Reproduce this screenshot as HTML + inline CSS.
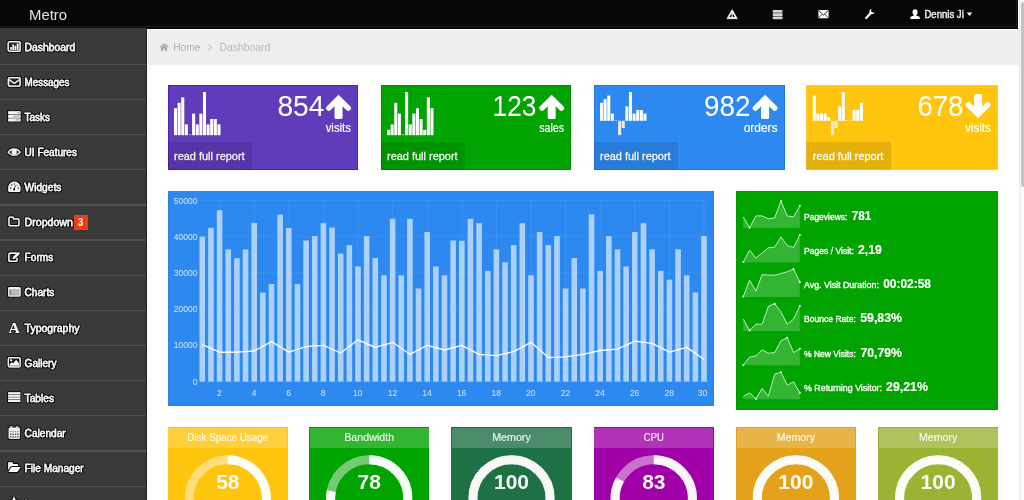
<!DOCTYPE html><html><head><meta charset="utf-8"><title>Metro</title><style>
*{box-sizing:border-box}
html,body{margin:0;padding:0}
body{width:1024px;height:500px;overflow:hidden;position:relative;background:#fff;font-family:"Liberation Sans",sans-serif;color:#fff}
.a{position:absolute}
svg{position:absolute;left:0;top:0;overflow:visible;will-change:transform}
svg text{font-family:"Liberation Sans",sans-serif;white-space:pre}
</style></head><body>
<div class="a" style="left:1019px;top:0;width:5px;height:500px;background:linear-gradient(90deg,#e4e4e4 0,#f3f3f3 1.2px,#fafafa 2.5px)"></div>
<div class="a" style="left:1021.4px;top:2px;width:6px;height:185px;background:#c3c3c3;border-radius:3px"></div>
<div class="a" style="left:0;top:0;width:1018px;height:28.6px;background:#070707"></div>
<div class="a" style="left:0;top:26.1px;width:1017px;height:0.9px;background:#1b1b1b"></div>
<div class="a" style="left:1016.1px;top:0;width:0.9px;height:27px;background:#1b1b1b"></div>
<div class="a" style="left:0;top:28.4px;width:147.1px;height:472px;background:#3a3a3a;border-right:1.4px solid #1f1f1f"></div>
<div class="a" style="left:0;top:63.70px;width:145.7px;height:1.3px;background:#515151"></div>
<div class="a" style="left:0;top:98.85px;width:145.7px;height:1.3px;background:#515151"></div>
<div class="a" style="left:0;top:134.00px;width:145.7px;height:1.3px;background:#515151"></div>
<div class="a" style="left:0;top:169.15px;width:145.7px;height:1.3px;background:#515151"></div>
<div class="a" style="left:0;top:204.30px;width:145.7px;height:1.3px;background:#515151"></div>
<div class="a" style="left:0;top:239.45px;width:145.7px;height:1.3px;background:#515151"></div>
<div class="a" style="left:0;top:274.60px;width:145.7px;height:1.3px;background:#515151"></div>
<div class="a" style="left:0;top:309.75px;width:145.7px;height:1.3px;background:#515151"></div>
<div class="a" style="left:0;top:344.90px;width:145.7px;height:1.3px;background:#515151"></div>
<div class="a" style="left:0;top:380.05px;width:145.7px;height:1.3px;background:#515151"></div>
<div class="a" style="left:0;top:415.20px;width:145.7px;height:1.3px;background:#515151"></div>
<div class="a" style="left:0;top:450.35px;width:145.7px;height:1.3px;background:#515151"></div>
<div class="a" style="left:0;top:485.50px;width:145.7px;height:1.3px;background:#515151"></div>
<div class="a" style="left:0;top:520.65px;width:145.7px;height:1.3px;background:#515151"></div>
<div class="a" style="left:73.6px;top:215px;width:14px;height:15.4px;background:#ee3b12"></div>
<div class="a" style="left:148.1px;top:30px;width:870.9px;height:34.5px;background:#eeeeee"></div>
<svg width="1024" height="500" viewBox="0 0 1024 500"><path d="M208.3 44.7 L211.4 47.4 L208.3 50.1" fill="none" stroke="#b4b4b4" stroke-width="1"/></svg>
<div class="a" style="left:167.60px;top:85.2px;width:190.70px;height:85px;background:#603cba;box-shadow:inset 0 0 0 1px #4d22b3"></div>
<div class="a" style="left:167.60px;top:142.2px;width:84.2px;height:28px;background:rgba(0,0,0,.10)"></div>
<div class="a" style="left:380.60px;top:85.2px;width:190.90px;height:85px;background:#00a300;box-shadow:inset 0 0 0 1px #009000"></div>
<div class="a" style="left:380.60px;top:142.2px;width:84.2px;height:28px;background:rgba(0,0,0,.10)"></div>
<div class="a" style="left:593.60px;top:85.2px;width:191.60px;height:85px;background:#2d89ef;box-shadow:inset 0 0 0 1px #2278e2"></div>
<div class="a" style="left:593.60px;top:142.2px;width:84.2px;height:28px;background:rgba(0,0,0,.10)"></div>
<div class="a" style="left:806.40px;top:85.2px;width:191.90px;height:85px;background:#ffc40d;box-shadow:inset 0 0 0 1px #ffce3a"></div>
<div class="a" style="left:806.40px;top:142.2px;width:84.2px;height:28px;background:rgba(0,0,0,.10)"></div>
<svg width="1024" height="500" viewBox="0 0 1024 500"><rect x="174.00" y="108.20" width="3.05" height="27.00" fill="#fff"/><rect x="177.62" y="102.80" width="3.05" height="32.40" fill="#fff"/><rect x="181.24" y="97.40" width="3.05" height="37.80" fill="#fff"/><rect x="184.86" y="124.40" width="3.05" height="10.80" fill="#fff"/><rect x="189.08" y="134.30" width="2" height="0.9" fill="#fff" opacity=".7"/><rect x="192.10" y="113.60" width="3.05" height="21.60" fill="#fff"/><rect x="195.72" y="124.40" width="3.05" height="10.80" fill="#fff"/><rect x="199.34" y="113.60" width="3.05" height="21.60" fill="#fff"/><rect x="202.96" y="92.00" width="3.05" height="43.20" fill="#fff"/><rect x="206.58" y="124.40" width="3.05" height="10.80" fill="#fff"/><rect x="210.20" y="119.00" width="3.05" height="16.20" fill="#fff"/><rect x="213.82" y="119.00" width="3.05" height="16.20" fill="#fff"/><rect x="217.44" y="124.40" width="3.05" height="10.80" fill="#fff"/><g transform="translate(338.55 94.7)" fill="none" stroke="#fff"><rect x="-4" y="6" width="8" height="18.4" rx="1.6" fill="#fff" stroke="none"/><path d="M-9.7 13.5 L0 3.8 L9.7 13.5" stroke-width="5.4" stroke-linejoin="miter" stroke-linecap="round"/></g><rect x="387.00" y="129.80" width="3.05" height="5.40" fill="#fff"/><rect x="390.62" y="124.40" width="3.05" height="10.80" fill="#fff"/><rect x="394.24" y="102.80" width="3.05" height="32.40" fill="#fff"/><rect x="397.86" y="113.60" width="3.05" height="21.60" fill="#fff"/><rect x="402.08" y="134.30" width="2" height="0.9" fill="#fff" opacity=".7"/><rect x="405.10" y="92.00" width="3.05" height="43.20" fill="#fff"/><rect x="408.72" y="124.40" width="3.05" height="10.80" fill="#fff"/><rect x="412.34" y="113.60" width="3.05" height="21.60" fill="#fff"/><rect x="415.96" y="108.20" width="3.05" height="27.00" fill="#fff"/><rect x="419.58" y="119.00" width="3.05" height="16.20" fill="#fff"/><rect x="423.20" y="129.80" width="3.05" height="5.40" fill="#fff"/><rect x="426.82" y="97.40" width="3.05" height="37.80" fill="#fff"/><rect x="430.44" y="108.20" width="3.05" height="27.00" fill="#fff"/><g transform="translate(551.70 94.7)" fill="none" stroke="#fff"><rect x="-4" y="6" width="8" height="18.4" rx="1.6" fill="#fff" stroke="none"/><path d="M-9.7 13.5 L0 3.8 L9.7 13.5" stroke-width="5.4" stroke-linejoin="miter" stroke-linecap="round"/></g><rect x="600.00" y="102.80" width="3.05" height="18.00" fill="#fff"/><rect x="603.62" y="99.20" width="3.05" height="21.60" fill="#fff"/><rect x="607.24" y="95.60" width="3.05" height="25.20" fill="#fff"/><rect x="610.86" y="113.60" width="3.05" height="7.20" fill="#fff"/><rect x="615.08" y="119.90" width="2" height="0.9" fill="#fff" opacity=".7"/><rect x="618.10" y="120.80" width="3.05" height="14.40" fill="#efe9e4"/><rect x="621.72" y="120.80" width="3.05" height="7.20" fill="#efe9e4"/><rect x="625.34" y="106.40" width="3.05" height="14.40" fill="#fff"/><rect x="628.96" y="92.00" width="3.05" height="28.80" fill="#fff"/><rect x="632.58" y="113.60" width="3.05" height="7.20" fill="#fff"/><rect x="636.20" y="110.00" width="3.05" height="10.80" fill="#fff"/><rect x="639.82" y="110.00" width="3.05" height="10.80" fill="#fff"/><rect x="643.44" y="113.60" width="3.05" height="7.20" fill="#fff"/><g transform="translate(765.10 94.7)" fill="none" stroke="#fff"><rect x="-4" y="6" width="8" height="18.4" rx="1.6" fill="#fff" stroke="none"/><path d="M-9.7 13.5 L0 3.8 L9.7 13.5" stroke-width="5.4" stroke-linejoin="miter" stroke-linecap="round"/></g><rect x="812.80" y="95.60" width="3.05" height="25.20" fill="#fff"/><rect x="816.42" y="113.60" width="3.05" height="7.20" fill="#fff"/><rect x="820.04" y="113.60" width="3.05" height="7.20" fill="#fff"/><rect x="823.66" y="113.60" width="3.05" height="7.20" fill="#fff"/><rect x="827.28" y="117.20" width="3.05" height="3.60" fill="#fff"/><rect x="830.90" y="120.80" width="3.05" height="14.40" fill="#efe9e4"/><rect x="834.52" y="120.80" width="3.05" height="7.20" fill="#efe9e4"/><rect x="838.14" y="106.40" width="3.05" height="14.40" fill="#fff"/><rect x="841.76" y="92.00" width="3.05" height="28.80" fill="#fff"/><rect x="845.98" y="119.90" width="2" height="0.9" fill="#fff" opacity=".7"/><rect x="849.60" y="119.90" width="2" height="0.9" fill="#fff" opacity=".7"/><rect x="852.62" y="110.00" width="3.05" height="10.80" fill="#fff"/><rect x="856.24" y="110.00" width="3.05" height="10.80" fill="#fff"/><rect x="859.86" y="102.80" width="3.05" height="18.00" fill="#fff"/><g transform="translate(978.10 118.3) scale(1 -1)" fill="none" stroke="#fff"><rect x="-4" y="6" width="8" height="18.4" rx="1.6" fill="#fff" stroke="none"/><path d="M-9.7 13.5 L0 3.8 L9.7 13.5" stroke-width="5.4" stroke-linejoin="miter" stroke-linecap="round"/></g></svg>
<div class="a" style="left:167.7px;top:190.7px;width:546.20px;height:215.1px;background:#2d89ef;box-shadow:inset 0 0 0 1px rgba(0,0,0,.05)"></div>
<svg width="1024" height="500" viewBox="0 0 1024 500"><line x1="199" x2="708.5" y1="381.60" y2="381.60" stroke="#fff" stroke-opacity=".07" stroke-width="1"/><line x1="199" x2="708.5" y1="345.40" y2="345.40" stroke="#fff" stroke-opacity=".07" stroke-width="1"/><line x1="199" x2="708.5" y1="309.20" y2="309.20" stroke="#fff" stroke-opacity=".07" stroke-width="1"/><line x1="199" x2="708.5" y1="273.00" y2="273.00" stroke="#fff" stroke-opacity=".07" stroke-width="1"/><line x1="199" x2="708.5" y1="236.80" y2="236.80" stroke="#fff" stroke-opacity=".07" stroke-width="1"/><line x1="199" x2="708.5" y1="200.60" y2="200.60" stroke="#fff" stroke-opacity=".07" stroke-width="1"/><line x1="219.60" x2="219.60" y1="200.6" y2="381.6" stroke="#fff" stroke-opacity=".07" stroke-width="1"/><line x1="254.20" x2="254.20" y1="200.6" y2="381.6" stroke="#fff" stroke-opacity=".07" stroke-width="1"/><line x1="288.80" x2="288.80" y1="200.6" y2="381.6" stroke="#fff" stroke-opacity=".07" stroke-width="1"/><line x1="323.40" x2="323.40" y1="200.6" y2="381.6" stroke="#fff" stroke-opacity=".07" stroke-width="1"/><line x1="358.00" x2="358.00" y1="200.6" y2="381.6" stroke="#fff" stroke-opacity=".07" stroke-width="1"/><line x1="392.60" x2="392.60" y1="200.6" y2="381.6" stroke="#fff" stroke-opacity=".07" stroke-width="1"/><line x1="427.20" x2="427.20" y1="200.6" y2="381.6" stroke="#fff" stroke-opacity=".07" stroke-width="1"/><line x1="461.80" x2="461.80" y1="200.6" y2="381.6" stroke="#fff" stroke-opacity=".07" stroke-width="1"/><line x1="496.40" x2="496.40" y1="200.6" y2="381.6" stroke="#fff" stroke-opacity=".07" stroke-width="1"/><line x1="531.00" x2="531.00" y1="200.6" y2="381.6" stroke="#fff" stroke-opacity=".07" stroke-width="1"/><line x1="565.60" x2="565.60" y1="200.6" y2="381.6" stroke="#fff" stroke-opacity=".07" stroke-width="1"/><line x1="600.20" x2="600.20" y1="200.6" y2="381.6" stroke="#fff" stroke-opacity=".07" stroke-width="1"/><line x1="634.80" x2="634.80" y1="200.6" y2="381.6" stroke="#fff" stroke-opacity=".07" stroke-width="1"/><line x1="669.40" x2="669.40" y1="200.6" y2="381.6" stroke="#fff" stroke-opacity=".07" stroke-width="1"/><line x1="704.00" x2="704.00" y1="200.6" y2="381.6" stroke="#fff" stroke-opacity=".07" stroke-width="1"/><rect x="199.50" y="236.60" width="5.6" height="145.00" fill="#fff" fill-opacity=".6"/><rect x="208.15" y="227.80" width="5.6" height="153.80" fill="#fff" fill-opacity=".6"/><rect x="216.80" y="210.20" width="5.6" height="171.40" fill="#fff" fill-opacity=".6"/><rect x="225.45" y="249.40" width="5.6" height="132.20" fill="#fff" fill-opacity=".6"/><rect x="234.10" y="258.20" width="5.6" height="123.40" fill="#fff" fill-opacity=".6"/><rect x="242.75" y="249.40" width="5.6" height="132.20" fill="#fff" fill-opacity=".6"/><rect x="251.40" y="223.00" width="5.6" height="158.60" fill="#fff" fill-opacity=".6"/><rect x="260.05" y="292.70" width="5.6" height="88.90" fill="#fff" fill-opacity=".6"/><rect x="268.70" y="284.10" width="5.6" height="97.50" fill="#fff" fill-opacity=".6"/><rect x="277.35" y="214.60" width="5.6" height="167.00" fill="#fff" fill-opacity=".6"/><rect x="286.00" y="228.00" width="5.6" height="153.60" fill="#fff" fill-opacity=".6"/><rect x="294.65" y="284.10" width="5.6" height="97.50" fill="#fff" fill-opacity=".6"/><rect x="303.30" y="240.50" width="5.6" height="141.10" fill="#fff" fill-opacity=".6"/><rect x="311.95" y="236.10" width="5.6" height="145.50" fill="#fff" fill-opacity=".6"/><rect x="320.60" y="223.20" width="5.6" height="158.40" fill="#fff" fill-opacity=".6"/><rect x="329.25" y="227.60" width="5.6" height="154.00" fill="#fff" fill-opacity=".6"/><rect x="337.90" y="253.50" width="5.6" height="128.10" fill="#fff" fill-opacity=".6"/><rect x="346.55" y="245.20" width="5.6" height="136.40" fill="#fff" fill-opacity=".6"/><rect x="355.20" y="266.50" width="5.6" height="115.10" fill="#fff" fill-opacity=".6"/><rect x="363.85" y="236.10" width="5.6" height="145.50" fill="#fff" fill-opacity=".6"/><rect x="372.50" y="258.10" width="5.6" height="123.50" fill="#fff" fill-opacity=".6"/><rect x="381.15" y="275.30" width="5.6" height="106.30" fill="#fff" fill-opacity=".6"/><rect x="389.80" y="218.80" width="5.6" height="162.80" fill="#fff" fill-opacity=".6"/><rect x="398.45" y="275.30" width="5.6" height="106.30" fill="#fff" fill-opacity=".6"/><rect x="407.10" y="218.80" width="5.6" height="162.80" fill="#fff" fill-opacity=".6"/><rect x="415.75" y="288.50" width="5.6" height="93.10" fill="#fff" fill-opacity=".6"/><rect x="424.40" y="232.00" width="5.6" height="149.60" fill="#fff" fill-opacity=".6"/><rect x="433.05" y="266.50" width="5.6" height="115.10" fill="#fff" fill-opacity=".6"/><rect x="441.70" y="275.30" width="5.6" height="106.30" fill="#fff" fill-opacity=".6"/><rect x="450.35" y="240.50" width="5.6" height="141.10" fill="#fff" fill-opacity=".6"/><rect x="459.00" y="240.80" width="5.6" height="140.80" fill="#fff" fill-opacity=".6"/><rect x="467.65" y="218.80" width="5.6" height="162.80" fill="#fff" fill-opacity=".6"/><rect x="476.30" y="223.20" width="5.6" height="158.40" fill="#fff" fill-opacity=".6"/><rect x="484.95" y="270.90" width="5.6" height="110.70" fill="#fff" fill-opacity=".6"/><rect x="493.60" y="249.30" width="5.6" height="132.30" fill="#fff" fill-opacity=".6"/><rect x="502.25" y="262.30" width="5.6" height="119.30" fill="#fff" fill-opacity=".6"/><rect x="510.90" y="245.20" width="5.6" height="136.40" fill="#fff" fill-opacity=".6"/><rect x="519.55" y="223.20" width="5.6" height="158.40" fill="#fff" fill-opacity=".6"/><rect x="528.20" y="275.30" width="5.6" height="106.30" fill="#fff" fill-opacity=".6"/><rect x="536.85" y="232.00" width="5.6" height="149.60" fill="#fff" fill-opacity=".6"/><rect x="545.50" y="245.20" width="5.6" height="136.40" fill="#fff" fill-opacity=".6"/><rect x="554.15" y="236.10" width="5.6" height="145.50" fill="#fff" fill-opacity=".6"/><rect x="562.80" y="288.50" width="5.6" height="93.10" fill="#fff" fill-opacity=".6"/><rect x="571.45" y="258.10" width="5.6" height="123.50" fill="#fff" fill-opacity=".6"/><rect x="580.10" y="288.50" width="5.6" height="93.10" fill="#fff" fill-opacity=".6"/><rect x="588.75" y="214.40" width="5.6" height="167.20" fill="#fff" fill-opacity=".6"/><rect x="597.40" y="270.90" width="5.6" height="110.70" fill="#fff" fill-opacity=".6"/><rect x="606.05" y="236.10" width="5.6" height="145.50" fill="#fff" fill-opacity=".6"/><rect x="614.70" y="249.30" width="5.6" height="132.30" fill="#fff" fill-opacity=".6"/><rect x="623.35" y="266.50" width="5.6" height="115.10" fill="#fff" fill-opacity=".6"/><rect x="632.00" y="232.00" width="5.6" height="149.60" fill="#fff" fill-opacity=".6"/><rect x="640.65" y="223.20" width="5.6" height="158.40" fill="#fff" fill-opacity=".6"/><rect x="649.30" y="249.30" width="5.6" height="132.30" fill="#fff" fill-opacity=".6"/><rect x="657.95" y="270.90" width="5.6" height="110.70" fill="#fff" fill-opacity=".6"/><rect x="666.60" y="279.70" width="5.6" height="101.90" fill="#fff" fill-opacity=".6"/><rect x="675.25" y="249.30" width="5.6" height="132.30" fill="#fff" fill-opacity=".6"/><rect x="683.90" y="275.30" width="5.6" height="106.30" fill="#fff" fill-opacity=".6"/><rect x="692.55" y="292.40" width="5.6" height="89.20" fill="#fff" fill-opacity=".6"/><rect x="701.20" y="236.10" width="5.6" height="145.50" fill="#fff" fill-opacity=".6"/><polyline points="202.30,344.60 219.60,352.20 236.90,352.20 254.20,351.00 271.50,341.60 288.80,352.20 306.10,346.70 323.40,345.40 340.70,353.00 358.00,339.80 375.30,347.40 392.60,342.30 409.90,354.30 427.20,345.40 444.50,350.00 461.80,345.40 479.10,354.30 496.40,355.60 513.70,351.70 531.00,342.30 548.30,357.60 565.60,356.80 582.90,354.30 600.20,350.50 617.50,349.20 634.80,341.10 652.10,343.40 669.40,352.20 686.70,347.40 704.00,359.40" fill="none" stroke="#fff" stroke-width="1.35" stroke-linejoin="round"/></svg>
<div class="a" style="left:735.9px;top:190.7px;width:262.30px;height:219.8px;background:#00a300;box-shadow:inset 0 0 0 1px rgba(0,0,0,.05)"></div>
<svg width="1024" height="500" viewBox="0 0 1024 500"><polygon points="743.30,228.10 743.30,216.96 749.58,227.70 755.86,215.90 762.14,215.90 768.42,218.90 774.70,217.80 780.98,200.90 787.26,215.90 793.54,216.96 799.82,206.00 799.82,228.10" fill="#fff" fill-opacity=".2"/><polyline points="743.30,216.96 749.58,227.70 755.86,215.90 762.14,215.90 768.42,218.90 774.70,217.80 780.98,200.90 787.26,215.90 793.54,216.96 799.82,206.00" fill="none" stroke="#fff" stroke-opacity=".8" stroke-width="0.9" stroke-linejoin="round"/><circle cx="749.58" cy="227.70" r="1" fill="#fff"/><circle cx="780.98" cy="200.90" r="1" fill="#fff"/><circle cx="799.82" cy="206.00" r="1" fill="#fff"/><polygon points="743.30,262.40 743.30,262.00 749.58,250.00 755.86,258.10 762.14,253.00 768.42,247.80 774.70,247.10 780.98,236.80 787.26,245.60 793.54,247.50 799.82,235.00 799.82,262.40" fill="#fff" fill-opacity=".2"/><polyline points="743.30,262.00 749.58,250.00 755.86,258.10 762.14,253.00 768.42,247.80 774.70,247.10 780.98,236.80 787.26,245.60 793.54,247.50 799.82,235.00" fill="none" stroke="#fff" stroke-opacity=".8" stroke-width="0.9" stroke-linejoin="round"/><circle cx="743.30" cy="262.00" r="1" fill="#fff"/><circle cx="799.82" cy="235.00" r="1" fill="#fff"/><polygon points="743.30,297.00 743.30,296.60 749.58,280.10 755.86,291.10 762.14,274.60 768.42,275.00 774.70,275.20 780.98,273.50 787.26,271.70 793.54,269.10 799.82,281.90 799.82,297.00" fill="#fff" fill-opacity=".2"/><polyline points="743.30,296.60 749.58,280.10 755.86,291.10 762.14,274.60 768.42,275.00 774.70,275.20 780.98,273.50 787.26,271.70 793.54,269.10 799.82,281.90" fill="none" stroke="#fff" stroke-opacity=".8" stroke-width="0.9" stroke-linejoin="round"/><circle cx="743.30" cy="296.60" r="1" fill="#fff"/><circle cx="793.54" cy="269.10" r="1" fill="#fff"/><circle cx="799.82" cy="281.90" r="1" fill="#fff"/><polygon points="743.30,330.90 743.30,319.10 749.58,330.50 755.86,324.20 762.14,324.20 768.42,306.30 774.70,303.70 780.98,311.80 787.26,324.20 793.54,319.10 799.82,305.90 799.82,330.90" fill="#fff" fill-opacity=".2"/><polyline points="743.30,319.10 749.58,330.50 755.86,324.20 762.14,324.20 768.42,306.30 774.70,303.70 780.98,311.80 787.26,324.20 793.54,319.10 799.82,305.90" fill="none" stroke="#fff" stroke-opacity=".8" stroke-width="0.9" stroke-linejoin="round"/><circle cx="749.58" cy="330.50" r="1" fill="#fff"/><circle cx="774.70" cy="303.70" r="1" fill="#fff"/><circle cx="799.82" cy="305.90" r="1" fill="#fff"/><polygon points="743.30,365.30 743.30,364.90 749.58,357.20 755.86,355.80 762.14,349.90 768.42,353.20 774.70,352.50 780.98,340.70 787.26,337.80 793.54,352.50 799.82,348.80 799.82,365.30" fill="#fff" fill-opacity=".2"/><polyline points="743.30,364.90 749.58,357.20 755.86,355.80 762.14,349.90 768.42,353.20 774.70,352.50 780.98,340.70 787.26,337.80 793.54,352.50 799.82,348.80" fill="none" stroke="#fff" stroke-opacity=".8" stroke-width="0.9" stroke-linejoin="round"/><circle cx="743.30" cy="364.90" r="1" fill="#fff"/><circle cx="799.82" cy="348.80" r="1" fill="#fff"/><circle cx="787.26" cy="337.80" r="1" fill="#fff"/><polygon points="743.30,399.30 743.30,396.50 749.58,392.80 755.86,398.90 762.14,388.40 768.42,396.10 774.70,374.10 780.98,372.30 787.26,385.10 793.54,381.80 799.82,392.80 799.82,399.30" fill="#fff" fill-opacity=".2"/><polyline points="743.30,396.50 749.58,392.80 755.86,398.90 762.14,388.40 768.42,396.10 774.70,374.10 780.98,372.30 787.26,385.10 793.54,381.80 799.82,392.80" fill="none" stroke="#fff" stroke-opacity=".8" stroke-width="0.9" stroke-linejoin="round"/><circle cx="799.82" cy="392.80" r="1" fill="#fff"/><circle cx="755.86" cy="398.90" r="1" fill="#fff"/><circle cx="780.98" cy="372.30" r="1" fill="#fff"/></svg>
<div class="a" style="left:167.60px;top:426.9px;width:120.40px;height:74px;background:#ffc40d"></div>
<div class="a" style="left:168.30px;top:427.5px;width:119.00px;height:20.5px;background:rgba(255,255,255,.2)"></div>
<div class="a" style="left:309.00px;top:426.9px;width:120.40px;height:74px;background:#00a300"></div>
<div class="a" style="left:309.70px;top:427.5px;width:119.00px;height:20.5px;background:rgba(255,255,255,.2)"></div>
<div class="a" style="left:451.20px;top:426.9px;width:120.60px;height:74px;background:#1e7145"></div>
<div class="a" style="left:451.90px;top:427.5px;width:119.20px;height:20.5px;background:rgba(255,255,255,.2)"></div>
<div class="a" style="left:593.60px;top:426.9px;width:120.40px;height:74px;background:#9f00a7"></div>
<div class="a" style="left:594.30px;top:427.5px;width:119.00px;height:20.5px;background:rgba(255,255,255,.2)"></div>
<div class="a" style="left:735.80px;top:426.9px;width:120.20px;height:74px;background:#e3a21a"></div>
<div class="a" style="left:736.50px;top:427.5px;width:118.80px;height:20.5px;background:rgba(255,255,255,.2)"></div>
<div class="a" style="left:878.00px;top:426.9px;width:120.30px;height:74px;background:#99b433"></div>
<div class="a" style="left:878.70px;top:427.5px;width:118.90px;height:20.5px;background:rgba(255,255,255,.2)"></div>
<svg width="1024" height="500" viewBox="0 0 1024 500"><circle cx="227.80" cy="498.3" r="38.6" fill="none" stroke="#fff" stroke-opacity=".45" stroke-width="9.0"/><path d="M227.80 459.70 A38.6 38.6 0 1 1 209.20 532.13" fill="none" stroke="#fff" stroke-opacity=".93" stroke-width="9.0"/><circle cx="369.20" cy="498.3" r="38.6" fill="none" stroke="#fff" stroke-opacity=".45" stroke-width="9.0"/><path d="M369.20 459.70 A38.6 38.6 0 1 1 331.28 491.07" fill="none" stroke="#fff" stroke-opacity=".93" stroke-width="9.0"/><circle cx="511.50" cy="498.3" r="38.6" fill="none" stroke="#fff" stroke-opacity=".45" stroke-width="9.0"/><circle cx="511.50" cy="498.3" r="38.6" fill="none" stroke="#fff" stroke-opacity=".93" stroke-width="9.0"/><circle cx="653.80" cy="498.3" r="38.6" fill="none" stroke="#fff" stroke-opacity=".45" stroke-width="9.0"/><path d="M653.80 459.70 A38.6 38.6 0 1 1 619.97 479.70" fill="none" stroke="#fff" stroke-opacity=".93" stroke-width="9.0"/><circle cx="795.90" cy="498.3" r="38.6" fill="none" stroke="#fff" stroke-opacity=".45" stroke-width="9.0"/><circle cx="795.90" cy="498.3" r="38.6" fill="none" stroke="#fff" stroke-opacity=".93" stroke-width="9.0"/><circle cx="938.15" cy="498.3" r="38.6" fill="none" stroke="#fff" stroke-opacity=".45" stroke-width="9.0"/><circle cx="938.15" cy="498.3" r="38.6" fill="none" stroke="#fff" stroke-opacity=".93" stroke-width="9.0"/></svg>
<svg width="1024" height="500" viewBox="0 0 1024 500"><defs><filter id="sh" x="-40%" y="-40%" width="180%" height="180%"><feMorphology in="SourceAlpha" operator="dilate" radius="0.55" result="d"/><feGaussianBlur in="d" stdDeviation="0.5" result="b"/><feFlood flood-color="#000" flood-opacity="0.8"/><feComposite in2="b" operator="in" result="s"/><feMerge><feMergeNode in="s"/><feMergeNode in="SourceGraphic"/></feMerge></filter></defs><g filter="url(#sh)" fill="#fff" stroke="none"><g transform="translate(7.6 41.0)"><rect x="0.65" y="0.65" width="11.9" height="9.8" rx="1.9" fill="none" stroke="#f4f4f4" stroke-width="1.3"/><rect x="2.7" y="6.0" width="1.5" height="2.9" fill="#f4f4f4"/><rect x="4.9" y="3.6" width="1.5" height="5.3" fill="#f4f4f4"/><rect x="7.1" y="4.9" width="1.5" height="4.0" fill="#f4f4f4"/><rect x="9.3" y="2.6" width="1.5" height="6.3" fill="#f4f4f4"/></g><g transform="translate(7.8 77.0)"><rect x="0.65" y="0.65" width="11.7" height="8.5" rx="1.6" fill="none" stroke="#f4f4f4" stroke-width="1.3"/><path d="M1.2 2.4 L6.5 6.4 L11.8 2.4" fill="none" stroke="#f4f4f4" stroke-width="1.2" stroke-linejoin="round"/></g><g transform="translate(8.1 111.2)"><rect x="0" y="0" width="12.5" height="2.8" rx="0.9" fill="#f4f4f4"/><rect x="0" y="3.65" width="12.5" height="2.8" rx="0.9" fill="#f4f4f4"/><rect x="0" y="7.3" width="12.5" height="2.8" rx="0.9" fill="#f4f4f4"/><rect x="9.2" y="0.9" width="2.3" height="1" fill="#999"/><rect x="5.2" y="4.55" width="6.3" height="1" fill="#999"/><rect x="7.6" y="8.2" width="3.9" height="1" fill="#999"/></g><g transform="translate(7.8 147.9)"><path d="M0.6 4.4 C3 0.2 9.8 0.2 12.2 4.4 C9.8 8.2 3 8.2 0.6 4.4 Z" fill="none" stroke="#f4f4f4" stroke-width="1.2"/><circle cx="6.4" cy="4.0" r="2.5" fill="#fff"/></g><g transform="translate(8.1 181.7)"><path d="M0.9 10.3 C-0.9 7.6 0 0 6.25 0 C12.5 0 13.4 7.6 11.6 10.3 Z" fill="#f4f4f4"/><circle cx="2.6" cy="6.4" r="0.75" fill="#222"/><circle cx="3.7" cy="3.4" r="0.75" fill="#222"/><circle cx="6.3" cy="2.3" r="0.7" fill="#222"/><circle cx="9.0" cy="3.5" r="0.6" fill="#555"/><circle cx="10.0" cy="6.4" r="0.75" fill="#222"/><path d="M6.0 7.4 L7.4 3.6" stroke="#333" stroke-width="0.9" fill="none"/><circle cx="6.0" cy="7.7" r="1.05" fill="#222"/></g><g transform="translate(8.3 216.5)"><path d="M0.65 2 Q0.65 0.65 2 0.65 L4.2 0.65 Q5.2 0.65 5.2 1.6 L5.2 2.3 L9.4 2.3 Q10.65 2.3 10.65 3.5 L10.65 7.9 Q10.65 9.15 9.4 9.15 L2 9.15 Q0.65 9.15 0.65 7.9 Z" fill="none" stroke="#f4f4f4" stroke-width="1.3" stroke-linejoin="round"/></g><g transform="translate(8.1 251.7)"><path d="M8.2 1.55 L2.6 1.55 Q0.65 1.55 0.65 3.5 L0.65 7.7 Q0.65 9.65 2.6 9.65 L7 9.65 Q8.9 9.65 8.9 7.7 L8.9 6.8" fill="none" stroke="#f4f4f4" stroke-width="1.3" stroke-linecap="round"/><path d="M4.6 7.3 L5.1 5.2 L9.6 0.7 Q10.2 0.2 10.8 0.8 L11.3 1.3 Q11.8 1.9 11.3 2.4 L6.8 6.9 Z" fill="#fff"/></g><g transform="translate(8.1 287.0)"><rect x="0" y="0" width="12.5" height="9.6" rx="1.7" fill="#f4f4f4"/><rect x="1.2" y="2.3" width="10.1" height="6.1" fill="#9a9a9a"/><rect x="3.2" y="3.0" width="7.4" height="4.7" fill="#bdbdbd"/><rect x="1.8" y="3.0" width="1" height="4.7" fill="#777"/></g><g transform="translate(7.8 357.0)"><rect x="0.6" y="0.6" width="11.8" height="9.3" rx="1.5" fill="none" stroke="#f4f4f4" stroke-width="1.2"/><circle cx="3.3" cy="3.2" r="1.0" fill="#fff"/><path d="M2.0 8.6 L2.0 7.2 L4.4 5.6 L5.6 6.4 L8.4 3.0 L11.0 6.4 L11.0 8.6 Z" fill="#fff"/></g><g transform="translate(8.1 392.2)"><rect x="0" y="0" width="12.1" height="1.9" rx="0.3" fill="#f4f4f4"/><rect x="0" y="2.62" width="12.1" height="1.9" rx="0.3" fill="#f4f4f4"/><rect x="0" y="5.24" width="12.1" height="1.9" rx="0.3" fill="#f4f4f4"/><rect x="0" y="7.86" width="12.1" height="1.9" rx="0.3" fill="#f4f4f4"/></g><g transform="translate(8.8 426.2)"><path d="M0 2.2 L0 11.6 Q0 12.5 0.9 12.5 L10.1 12.5 Q11 12.5 11 11.6 L11 2.2 Q11 1.5 10.2 1.5 L9.4 1.5 L9.4 1.0 Q9.4 0 8.4 0 Q7.4 0 7.4 1.0 L7.4 1.5 L3.6 1.5 L3.6 1.0 Q3.6 0 2.6 0 Q1.6 0 1.6 1.0 L1.6 1.5 L0.8 1.5 Q0 1.5 0 2.2 Z" fill="#f4f4f4"/><rect x="1.2" y="4.7" width="1.5" height="1.4" fill="#3a3a3a" opacity="0.55"/><rect x="3.6" y="4.7" width="1.5" height="1.4" fill="#3a3a3a" opacity="0.55"/><rect x="6.0" y="4.7" width="1.5" height="1.4" fill="#3a3a3a" opacity="0.55"/><rect x="8.4" y="4.7" width="1.5" height="1.4" fill="#3a3a3a" opacity="0.55"/><rect x="1.2" y="7.4" width="1.5" height="1.4" fill="#3a3a3a" opacity="0.9"/><rect x="3.6" y="7.4" width="1.5" height="1.4" fill="#3a3a3a" opacity="0.9"/><rect x="6.0" y="7.4" width="1.5" height="1.4" fill="#3a3a3a" opacity="0.9"/><rect x="8.4" y="7.4" width="1.5" height="1.4" fill="#3a3a3a" opacity="0.9"/><rect x="1.2" y="9.9" width="1.5" height="1.4" fill="#3a3a3a" opacity="0.9"/><rect x="3.6" y="9.9" width="1.5" height="1.4" fill="#3a3a3a" opacity="0.9"/><rect x="6.0" y="9.9" width="1.5" height="1.4" fill="#3a3a3a" opacity="0.9"/><rect x="8.4" y="9.9" width="1.5" height="1.4" fill="#3a3a3a" opacity="0.9"/><rect x="2.2" y="0.7" width="0.8" height="1.5" fill="#aaa"/><rect x="8.0" y="0.7" width="0.8" height="1.5" fill="#aaa"/></g><g transform="translate(8.1 462.2)"><path d="M0 1.2 Q0 0 1.2 0 L3.6 0 Q4.8 0 4.8 1.2 L4.8 1.7 L8.6 1.7 Q9.8 1.7 9.8 2.9 L9.8 3.7 L3.8 3.7 Q2.8 3.7 2.2 4.6 L0 7.8 Z" fill="#f4f4f4"/><path d="M0.5 9.8 L3.3 5.4 Q3.8 4.7 4.6 4.7 L11.7 4.7 Q12.6 4.7 12.0 5.5 L9.6 9.1 Q9.1 9.8 8.3 9.8 Z" fill="#fff"/></g><g transform="translate(8.2 496.6)"><path d="M5.8 0 L7.6 3.8 L11.6 4.3 L8.7 7.2 L9.4 11.3 L5.8 9.3 L2.2 11.3 L2.9 7.2 L0 4.3 L4 3.8 Z" fill="#f4f4f4"/></g></g><text x="8.6" y="332.6" font-size="15.6" font-weight="bold" fill="#fff" stroke="#000" stroke-width="1.4" stroke-opacity=".6" paint-order="stroke" style="font-family:'Liberation Serif',serif">A</text><g transform="translate(159.6 43.4)" fill="#a3a3a3"><path d="M4.35 0 L8.9 3.7 L8.3 4.4 L4.35 1.3 L0.4 4.4 L-0.2 3.7 Z"/><path d="M1.3 4.3 L4.35 1.9 L7.4 4.3 L7.4 7.4 L5.2 7.4 L5.2 5.2 L3.5 5.2 L3.5 7.4 L1.3 7.4 Z"/><rect x="6.2" y="0.5" width="1.1" height="2" /></g><g transform="translate(726.7 9.4)"><path d="M5.45 0.2 L10.7 9.3 L0.2 9.3 Z" fill="#fff" stroke="#fff" stroke-width="0.6" stroke-linejoin="round"/><path d="M5.45 3.0 L8.2 7.7 L2.7 7.7 Z" fill="#0a0a0a"/><rect x="4.8" y="3.3" width="1.3" height="2.9" fill="#fff"/><rect x="4.8" y="6.6" width="1.3" height="1.1" fill="#fff"/></g><g transform="translate(772.7 10.1)" fill="#d6d6d6"><rect x="0" y="0" width="9.9" height="2.75" rx="0.8"/><rect x="0" y="3.15" width="9.9" height="2.75" rx="0.8"/><rect x="0" y="6.3" width="9.9" height="2.75" rx="0.8"/></g><g transform="translate(818.4 10.1)"><rect x="0" y="0" width="10.2" height="8.1" rx="0.6" fill="#fff"/><path d="M0.5 0.6 L5.1 5.0 L9.7 0.6" fill="none" stroke="#0a0a0a" stroke-width="0.9"/><path d="M0.5 7.6 L3.6 4.2 M9.7 7.6 L6.6 4.2" fill="none" stroke="#0a0a0a" stroke-width="0.8"/></g><g transform="translate(864.9 8.7)"><path d="M1.3 9.3 L6.2 4.1" stroke="#fff" stroke-width="2.3" stroke-linecap="round" fill="none"/><path d="M6.7 0.3 Q4.3 0.6 4.4 3.2 Q4.6 5.6 7.2 5.6 Q9.3 5.4 9.4 3.2 L7.4 4.0 L6.0 2.7 Z" fill="#fff"/></g><g transform="translate(910.3 9.4)" fill="#fff"><ellipse cx="4.75" cy="2.8" rx="2.5" ry="2.9"/><path d="M0 9.5 L0 8.3 Q0 7.2 1.4 6.8 L3.6 6.0 L3.6 4.8 L5.9 4.8 L5.9 6.0 L8.1 6.8 Q9.5 7.2 9.5 8.3 L9.5 9.5 Z"/></g><path d="M966.7 12.6 L972.3 12.6 L969.5 15.9 Z" fill="#fff"/></svg>
<svg width="1024" height="500" viewBox="0 0 1024 500"><text transform="translate(29.10 19.70) scale(0.9658 1)" font-size="15.4" fill="#e2e2e2">Metro</text><text transform="translate(924.40 17.80) scale(0.9033 1)" font-size="10.6" fill="#ececec" stroke="#ececec" stroke-width="0.45" stroke-linejoin="round">Dennis Ji</text><text transform="translate(24.60 50.80) scale(0.9781 1)" font-size="10.6" fill="#fff" stroke="#fff" stroke-width="0.3" stroke-linejoin="round" filter="url(#sh)">Dashboard</text><text transform="translate(24.60 85.89) scale(0.9289 1)" font-size="10.6" fill="#fff" stroke="#fff" stroke-width="0.3" stroke-linejoin="round" filter="url(#sh)">Messages</text><text transform="translate(24.60 120.98) scale(0.9379 1)" font-size="10.6" fill="#fff" stroke="#fff" stroke-width="0.3" stroke-linejoin="round" filter="url(#sh)">Tasks</text><text transform="translate(24.60 156.07) scale(0.9461 1)" font-size="10.6" fill="#fff" stroke="#fff" stroke-width="0.3" stroke-linejoin="round" filter="url(#sh)">UI Features</text><text transform="translate(24.60 191.16) scale(0.9591 1)" font-size="10.6" fill="#fff" stroke="#fff" stroke-width="0.3" stroke-linejoin="round" filter="url(#sh)">Widgets</text><text transform="translate(24.60 226.25) scale(1.0013 1)" font-size="10.6" fill="#fff" stroke="#fff" stroke-width="0.3" stroke-linejoin="round" filter="url(#sh)">Dropdown</text><text transform="translate(24.60 261.34) scale(0.9550 1)" font-size="10.6" fill="#fff" stroke="#fff" stroke-width="0.3" stroke-linejoin="round" filter="url(#sh)">Forms</text><text transform="translate(24.60 296.43) scale(0.9514 1)" font-size="10.6" fill="#fff" stroke="#fff" stroke-width="0.3" stroke-linejoin="round" filter="url(#sh)">Charts</text><text transform="translate(24.60 331.52) scale(0.9912 1)" font-size="10.6" fill="#fff" stroke="#fff" stroke-width="0.3" stroke-linejoin="round" filter="url(#sh)">Typography</text><text transform="translate(24.60 366.61) scale(0.9493 1)" font-size="10.6" fill="#fff" stroke="#fff" stroke-width="0.3" stroke-linejoin="round" filter="url(#sh)">Gallery</text><text transform="translate(24.60 401.70) scale(0.9597 1)" font-size="10.6" fill="#fff" stroke="#fff" stroke-width="0.3" stroke-linejoin="round" filter="url(#sh)">Tables</text><text transform="translate(24.60 436.79) scale(0.9573 1)" font-size="10.6" fill="#fff" stroke="#fff" stroke-width="0.3" stroke-linejoin="round" filter="url(#sh)">Calendar</text><text transform="translate(24.60 471.88) scale(0.9555 1)" font-size="10.6" fill="#fff" stroke="#fff" stroke-width="0.3" stroke-linejoin="round" filter="url(#sh)">File Manager</text><text transform="translate(24.60 507.97) scale(0.9237 1)" font-size="10.6" fill="#fff" stroke="#fff" stroke-width="0.3" stroke-linejoin="round" filter="url(#sh)">Icons</text><text transform="translate(77.82 226.40) scale(1.0000 1)" font-size="10" fill="#fff" font-weight="bold">3</text><text transform="translate(173.20 50.80) scale(0.9681 1)" font-size="10.6" fill="#b2b2b2">Home</text><text transform="translate(219.60 50.80) scale(0.9781 1)" font-size="10.6" fill="#b9b9b9">Dashboard</text><text transform="translate(174.00 160.00) scale(0.9965 1)" font-size="11" fill="#fff" fill-opacity="0.95" stroke="#fff" stroke-width="0.25" stroke-linejoin="round" stroke-opacity="0.95">read full report</text><text transform="translate(277.40 116.20) scale(0.9381 1)" font-size="30" fill="#fff">854</text><text transform="translate(325.70 132.20) scale(0.8868 1)" font-size="12.8" fill="#fff" stroke="#fff" stroke-width="0.2" stroke-linejoin="round">visits</text><text transform="translate(387.00 160.00) scale(0.9965 1)" font-size="11" fill="#fff" fill-opacity="0.95" stroke="#fff" stroke-width="0.25" stroke-linejoin="round" stroke-opacity="0.95">read full report</text><text transform="translate(492.60 116.20) scale(0.8762 1)" font-size="30" fill="#fff">123</text><text transform="translate(539.30 132.20) scale(0.8264 1)" font-size="12.8" fill="#fff" stroke="#fff" stroke-width="0.2" stroke-linejoin="round">sales</text><text transform="translate(600.00 160.00) scale(0.9965 1)" font-size="11" fill="#fff" fill-opacity="0.95" stroke="#fff" stroke-width="0.25" stroke-linejoin="round" stroke-opacity="0.95">read full report</text><text transform="translate(704.00 116.20) scale(0.9281 1)" font-size="30" fill="#fff">982</text><text transform="translate(743.70 132.20) scale(0.9342 1)" font-size="12.8" fill="#fff" stroke="#fff" stroke-width="0.2" stroke-linejoin="round">orders</text><text transform="translate(812.80 160.00) scale(0.9965 1)" font-size="11" fill="#fff" fill-opacity="0.95" stroke="#fff" stroke-width="0.25" stroke-linejoin="round" stroke-opacity="0.95">read full report</text><text transform="translate(917.40 116.20) scale(0.9202 1)" font-size="30" fill="#fff">678</text><text transform="translate(965.30 132.20) scale(0.8903 1)" font-size="12.8" fill="#fff" stroke="#fff" stroke-width="0.2" stroke-linejoin="round">visits</text><text transform="translate(192.68 384.60) scale(1.0000 1)" font-size="8.5" fill="#fff" fill-opacity="0.78">0</text><text transform="translate(173.77 348.40) scale(1.0000 1)" font-size="8.5" fill="#fff" fill-opacity="0.78">10000</text><text transform="translate(173.77 312.20) scale(1.0000 1)" font-size="8.5" fill="#fff" fill-opacity="0.78">20000</text><text transform="translate(173.77 276.00) scale(1.0000 1)" font-size="8.5" fill="#fff" fill-opacity="0.78">30000</text><text transform="translate(173.77 239.80) scale(1.0000 1)" font-size="8.5" fill="#fff" fill-opacity="0.78">40000</text><text transform="translate(173.77 203.60) scale(1.0000 1)" font-size="8.5" fill="#fff" fill-opacity="0.78">50000</text><text transform="translate(217.04 395.50) scale(1.0000 1)" font-size="8.5" fill="#fff" fill-opacity="0.78">2</text><text transform="translate(251.64 395.50) scale(1.0000 1)" font-size="8.5" fill="#fff" fill-opacity="0.78">4</text><text transform="translate(286.24 395.50) scale(1.0000 1)" font-size="8.5" fill="#fff" fill-opacity="0.78">6</text><text transform="translate(320.84 395.50) scale(1.0000 1)" font-size="8.5" fill="#fff" fill-opacity="0.78">8</text><text transform="translate(353.08 395.50) scale(1.0000 1)" font-size="8.5" fill="#fff" fill-opacity="0.78">10</text><text transform="translate(387.68 395.50) scale(1.0000 1)" font-size="8.5" fill="#fff" fill-opacity="0.78">12</text><text transform="translate(422.28 395.50) scale(1.0000 1)" font-size="8.5" fill="#fff" fill-opacity="0.78">14</text><text transform="translate(456.88 395.50) scale(1.0000 1)" font-size="8.5" fill="#fff" fill-opacity="0.78">16</text><text transform="translate(491.48 395.50) scale(1.0000 1)" font-size="8.5" fill="#fff" fill-opacity="0.78">18</text><text transform="translate(526.08 395.50) scale(1.0000 1)" font-size="8.5" fill="#fff" fill-opacity="0.78">20</text><text transform="translate(560.68 395.50) scale(1.0000 1)" font-size="8.5" fill="#fff" fill-opacity="0.78">22</text><text transform="translate(595.28 395.50) scale(1.0000 1)" font-size="8.5" fill="#fff" fill-opacity="0.78">24</text><text transform="translate(629.88 395.50) scale(1.0000 1)" font-size="8.5" fill="#fff" fill-opacity="0.78">26</text><text transform="translate(664.48 395.50) scale(1.0000 1)" font-size="8.5" fill="#fff" fill-opacity="0.78">28</text><text transform="translate(697.77 395.50) scale(1.0000 1)" font-size="8.5" fill="#fff" fill-opacity="0.78">30</text><text transform="translate(804.00 219.50) scale(0.9345 1)" font-size="9.1" fill="#fff" fill-opacity="0.95" stroke="#fff" stroke-width="0.4" stroke-linejoin="round" stroke-opacity="0.95">Pageviews:</text><text transform="translate(851.80 219.50) scale(0.9267 1)" font-size="12.6" fill="#fff" font-weight="bold" stroke="#fff" stroke-width="0.15" stroke-linejoin="round">781</text><text transform="translate(804.00 253.60) scale(0.9441 1)" font-size="9.1" fill="#fff" fill-opacity="0.95" stroke="#fff" stroke-width="0.4" stroke-linejoin="round" stroke-opacity="0.95">Pages / Visit:</text><text transform="translate(858.00 253.60) scale(0.9712 1)" font-size="12.6" fill="#fff" font-weight="bold" stroke="#fff" stroke-width="0.15" stroke-linejoin="round">2,19</text><text transform="translate(804.00 287.80) scale(0.9718 1)" font-size="9.1" fill="#fff" fill-opacity="0.95" stroke="#fff" stroke-width="0.4" stroke-linejoin="round" stroke-opacity="0.95">Avg. Visit Duration:</text><text transform="translate(883.20 287.80) scale(0.9472 1)" font-size="12.6" fill="#fff" font-weight="bold" stroke="#fff" stroke-width="0.15" stroke-linejoin="round">00:02:58</text><text transform="translate(804.00 322.30) scale(0.9411 1)" font-size="9.1" fill="#fff" fill-opacity="0.95" stroke="#fff" stroke-width="0.4" stroke-linejoin="round" stroke-opacity="0.95">Bounce Rate:</text><text transform="translate(860.20 322.30) scale(0.9786 1)" font-size="12.6" fill="#fff" font-weight="bold" stroke="#fff" stroke-width="0.15" stroke-linejoin="round">59,83%</text><text transform="translate(804.00 356.50) scale(0.9357 1)" font-size="9.1" fill="#fff" fill-opacity="0.95" stroke="#fff" stroke-width="0.4" stroke-linejoin="round" stroke-opacity="0.95">% New Visits:</text><text transform="translate(860.50 356.50) scale(0.9716 1)" font-size="12.6" fill="#fff" font-weight="bold" stroke="#fff" stroke-width="0.15" stroke-linejoin="round">70,79%</text><text transform="translate(804.00 391.00) scale(0.9731 1)" font-size="9.1" fill="#fff" fill-opacity="0.95" stroke="#fff" stroke-width="0.4" stroke-linejoin="round" stroke-opacity="0.95">% Returning Visitor:</text><text transform="translate(886.10 391.00) scale(0.9786 1)" font-size="12.6" fill="#fff" font-weight="bold" stroke="#fff" stroke-width="0.15" stroke-linejoin="round">29,21%</text><text transform="translate(187.35 441.20) scale(0.9107 1)" font-size="10.8" fill="#fff" fill-opacity="0.85" stroke="#fff" stroke-width="0.2" stroke-linejoin="round" stroke-opacity="0.85">Disk Space Usage</text><text transform="translate(216.15 488.70) scale(1.0000 1)" font-size="21" fill="#fff" fill-opacity="0.95" font-weight="bold">58</text><text transform="translate(344.20 441.20) scale(0.9914 1)" font-size="10.8" fill="#fff" fill-opacity="0.85" stroke="#fff" stroke-width="0.2" stroke-linejoin="round" stroke-opacity="0.85">Bandwidth</text><text transform="translate(357.55 488.70) scale(1.0000 1)" font-size="21" fill="#fff" fill-opacity="0.95" font-weight="bold">78</text><text transform="translate(492.25 441.20) scale(0.9875 1)" font-size="10.8" fill="#fff" fill-opacity="0.85" stroke="#fff" stroke-width="0.2" stroke-linejoin="round" stroke-opacity="0.85">Memory</text><text transform="translate(493.96 488.70) scale(1.0000 1)" font-size="21" fill="#fff" fill-opacity="0.95" font-weight="bold">100</text><text transform="translate(643.80 441.20) scale(0.8777 1)" font-size="10.8" fill="#fff" fill-opacity="0.85" stroke="#fff" stroke-width="0.2" stroke-linejoin="round" stroke-opacity="0.85">CPU</text><text transform="translate(642.14 488.70) scale(1.0000 1)" font-size="21" fill="#fff" fill-opacity="0.95" font-weight="bold">83</text><text transform="translate(776.65 441.20) scale(0.9875 1)" font-size="10.8" fill="#fff" fill-opacity="0.85" stroke="#fff" stroke-width="0.2" stroke-linejoin="round" stroke-opacity="0.85">Memory</text><text transform="translate(778.37 488.70) scale(1.0000 1)" font-size="21" fill="#fff" fill-opacity="0.95" font-weight="bold">100</text><text transform="translate(918.90 441.20) scale(0.9875 1)" font-size="10.8" fill="#fff" fill-opacity="0.85" stroke="#fff" stroke-width="0.2" stroke-linejoin="round" stroke-opacity="0.85">Memory</text><text transform="translate(920.62 488.70) scale(1.0000 1)" font-size="21" fill="#fff" fill-opacity="0.95" font-weight="bold">100</text></svg>
</body></html>
